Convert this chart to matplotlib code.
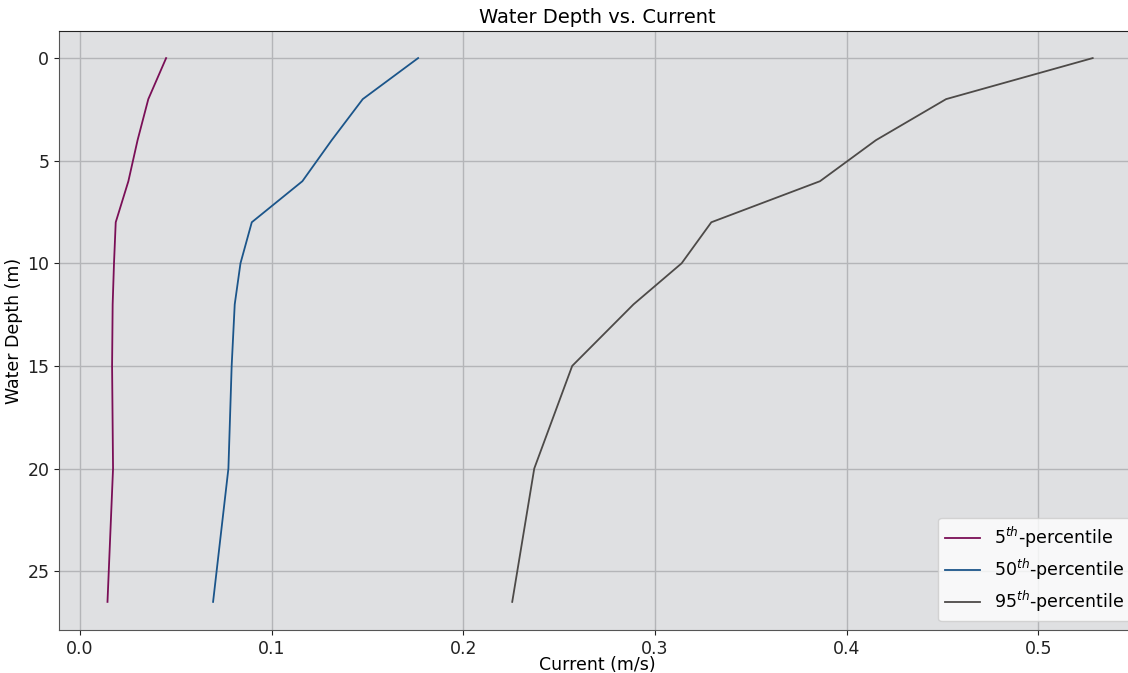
import matplotlib
matplotlib.use("Agg")
import matplotlib.pyplot as plt

depth = [0, 2, 4, 6, 8, 10, 12, 15, 20, 26.5]
p5 = [0.0449, 0.0356, 0.0300, 0.0252, 0.0186, 0.0177, 0.0170, 0.0167, 0.0172, 0.0143]
p50 = [0.1764, 0.1475, 0.1313, 0.1160, 0.0896, 0.0837, 0.0807, 0.0791, 0.0774, 0.0694]
p95 = [0.5284, 0.4519, 0.4153, 0.3861, 0.3294, 0.3139, 0.2888, 0.2568, 0.2370, 0.2255]
labels = ["5$^{th}$-percentile", "50$^{th}$-percentile", "95$^{th}$-percentile"]
colors = ["#7a0f57", "#1b558a", "#4d4a48"]

W, H = 1128, 673
fig = plt.figure(figsize=(W / 100, H / 100), dpi=100)
ax = fig.add_axes([59 / W, (H - 630) / H, (1136 - 59) / W, (630 - 31) / H])
ax.set_facecolor("#dfe0e2")

for vals, lab, c in zip([p5, p50, p95], labels, colors):
    ax.plot(vals, depth, color=c, lw=1.3, label=lab)

ax.set_xlim(-0.011, 0.551)
ax.set_ylim(27.87, -1.32)
ax.set_xticks([0, 0.1, 0.2, 0.3, 0.4, 0.5])
ax.set_xticklabels(["0.0", "0.1", "0.2", "0.3", "0.4", "0.5"])
ax.set_yticks([0, 5, 10, 15, 20, 25])
ax.grid(True, color="#b4b5b8", lw=1.0)
ax.set_axisbelow(True)
ax.tick_params(labelsize=12.5, colors="#222222")
ax.set_xlabel("Current (m/s)", fontsize=12.5, labelpad=-1)
ax.set_ylabel("Water Depth (m)", fontsize=12.5, labelpad=3)
ax.set_title("Water Depth vs. Current", fontsize=14)
for s in ["left", "bottom"]:
    ax.spines[s].set_color("#555555")
ax.spines["top"].set_color("#222222")
ax.legend(loc="lower right", bbox_to_anchor=(1.003, 0.0), fontsize=12.5,
          labelspacing=0.4, facecolor="white", framealpha=0.8)

fig.savefig("out.png", dpi=100)
